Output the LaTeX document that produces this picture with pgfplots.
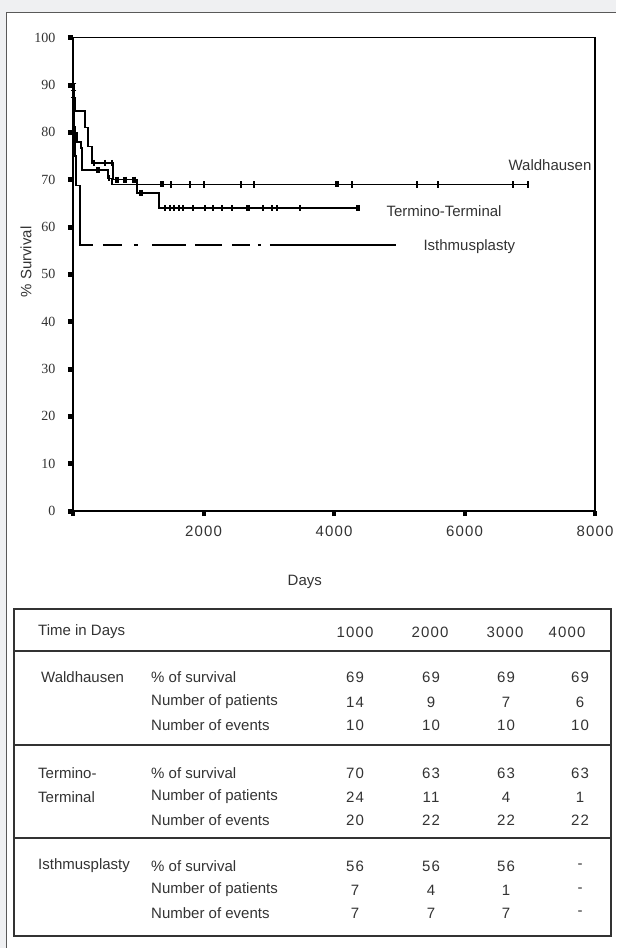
\documentclass[border=0pt]{standalone}
\usepackage{pgfplots}
\pgfplotsset{compat=1.18}
\usepackage{fontspec}
\setmainfont{Liberation Sans}
\newfontfamily\serifnum{Liberation Serif}
\newfontfamily\numfont[LetterSpace=8]{Liberation Sans}
\definecolor{bggray}{HTML}{EFF0F2}
\definecolor{txt}{HTML}{333333}
\newcommand\tabfont{\fontsize{15}{18}\selectfont}
\begin{document}
\begin{tikzpicture}
\path[use as bounding box] (0pt,0pt) rectangle (616pt,-948pt);
\fill[bggray] (0pt,0pt) rectangle (616pt,-948pt);
\fill[white] (6pt,-12pt) rectangle (616pt,-948pt);
\draw[black!65, line width=1pt] (6pt,-948pt) -- (6pt,-12pt) -- (616pt,-12pt);

\begin{axis}[
  at={(73pt,-511pt)}, anchor=south west,
  scale only axis, width=522pt, height=473.3pt,
  xmin=0, xmax=8000, ymin=0, ymax=100,
  axis line style={line width=1.5pt, black},
  tick pos=left,
  xtick={0,2000,4000,6000,8000},
  xticklabels={,2000,4000,6000,8000},
  ytick={0,10,...,100},
  tick align=outside, major tick length=5pt,
  tick style={black, line width=5pt},
  xtick style={line width=4pt},
  x tick label style={font=\numfont\fontsize{15}{15}\selectfont, text=txt, yshift=-6pt},
  y tick label style={font=\serifnum\fontsize{14}{14}\selectfont, text=txt, xshift=-9pt,
    /pgf/number format/assume math mode=true},
  xlabel={Days}, ylabel={\% Survival},
  label style={font=\tabfont, text=txt},
  xlabel style={at={(axis description cs:0.444,-0.150)}, anchor=center},
  ylabel style={at={(axis description cs:-0.090,0.526)}, anchor=center},
  clip=false,
]
% Waldhausen
\addplot[const plot, line width=1.5pt] coordinates {
(0,100)(5,90.6)(10,84.4)(15,80)(61,78)(120,76.7)(138,72)(536,70.3)(598,69)(6973,69)};
% Termino-Terminal
\addplot[const plot, line width=1.5pt] coordinates {
(0,100)(8,90.3)(16,88.8)(24,87.3)(30,84.5)(184,81)(230,77)(291,73.5)(613,70)(981,67.2)(1318,64)(4368,64)};
% Isthmusplasty
\addplot[const plot, line width=1.5pt] coordinates {
(0,100)(5,93.75)(10,87.5)(15,81.25)(30,75)(46,68.75)(107,56.25)(306,56.25)};
\addplot[line width=1.5pt, dash pattern=on 0pt off 10pt on 19pt off 12pt on 4pt off 14pt on 34pt off 9pt on 27pt off 10pt on 18pt off 8pt on 3pt off 9pt on 130pt off 0pt] coordinates {
(306,56.25)(4950,56.25)};
% censored, thin marks
\addplot[only marks, mark=|, mark size=3.2pt, mark options={line width=1.3pt}] coordinates {
(552,70.3)(1502,69)(1793,69)(2007,69)(2575,69)(2774,69)(4276,69)(5272,69)(5594,69)(6743,69)(6973,69)
(322,73.5)(490,73.5)(598,73.5)
(1410,64)(1487,64)(1548,64)(1625,64)(1686,64)(1839,64)(2023,64)(2146,64)(2284,64)(2437,64)(2912,64)(3050,64)(3126,64)(3479,64)};
% censored, heavy marks
\addplot[only marks, mark=|, mark size=3pt, mark options={line width=3.5pt}] coordinates {
(383,72)(1364,69)(4046,69)(674,70)(797,70)(935,70)(1042,67.2)(2682,64)(4368,64)};
\addplot[only marks, mark=-, mark size=2.5pt, mark options={line width=1.3pt}] coordinates {
(15,90.3)(15,88.8)(15,87.3)};
\node[anchor=west, font=\tabfont, text=txt] at (6621,73.1) {Waldhausen};
\node[anchor=west, font=\tabfont, text=txt] at (4751,63.4) {Termino-Terminal};
\node[anchor=west, font=\tabfont, text=txt] at (5318,55.8) {Isthmusplasty};
\end{axis}

% table
\draw[txt, line width=1.2pt] (14pt,-609pt) rectangle (611pt,-936pt);
\foreach \yy in {651,745,838} {\draw[txt, line width=1.2pt] (14pt,-\yy pt) -- (611pt,-\yy pt);}
\begin{scope}[every node/.style={font=\tabfont, text=txt, inner sep=0pt}]
\node[anchor=west] at (38pt,-632pt) {Time in Days};
\node at (355pt,-632pt) {\numfont 1000};
\node at (430pt,-632pt) {\numfont 2000};
\node at (505pt,-632pt) {\numfont 3000};
\node at (567pt,-632pt) {\numfont 4000};
\node[anchor=west] at (41pt,-677pt) {Waldhausen};
\node[anchor=west] at (38pt,-773pt) {Termino-};
\node[anchor=west] at (38pt,-797pt) {Terminal};
\node[anchor=west] at (38pt,-866pt) {Isthmusplasty};
\foreach \yy/\lab/\va/\vb/\vc/\vd in {
  677/{\% of survival}/69/69/69/69,
  702/{Number of patients}/14/9/7/6,
  725/{Number of events}/10/10/10/10,
  773/{\% of survival}/70/63/63/63,
  797/{Number of patients}/24/11/4/1,
  820/{Number of events}/20/22/22/22,
  866/{\% of survival}/56/56/56/-,
  890/{Number of patients}/7/4/1/-,
  913/{Number of events}/7/7/7/-} {
  \node[anchor=west] at (151pt,-\yy pt) {\lab};
  \node at (355pt,-\yy pt) {\numfont\va};
  \node at (431pt,-\yy pt) {\numfont\vb};
  \node at (506pt,-\yy pt) {\numfont\vc};
  \node at (580pt,-\yy pt) {\numfont\vd};
}
\end{scope}
\end{tikzpicture}
\end{document}
